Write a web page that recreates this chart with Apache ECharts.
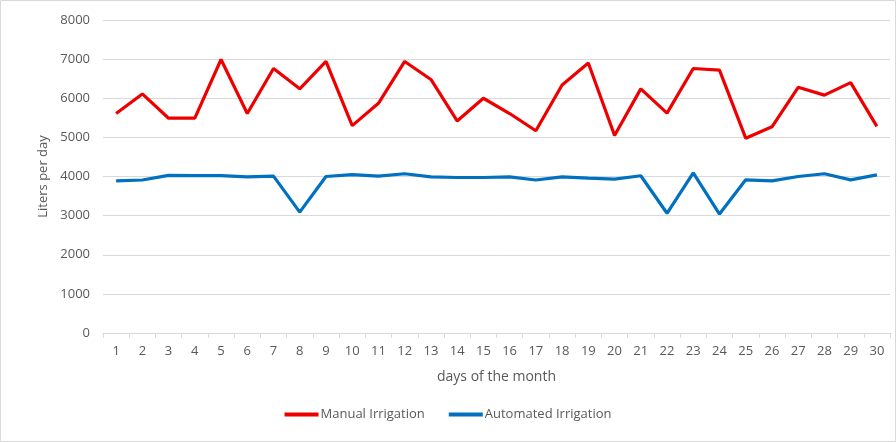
<!DOCTYPE html>
<html>
<head>
<meta charset="utf-8">
<script src="https://cdn.jsdelivr.net/npm/echarts@6/dist/echarts.min.js"></script>
<style>
html,body{margin:0;padding:0;background:#fff;}
#main{width:896px;height:442px;}
</style>
</head>
<body>
<div id="main"></div>
<script>
const days = ["1","2","3","4","5","6","7","8","9","10","11","12","13","14","15","16","17","18","19","20","21","22","23","24","25","26","27","28","29","30"];
const manualIrrigation = [5610,6110,5490,5490,6990,5610,6760,6240,6940,5300,5870,6940,6480,5420,6000,5610,5170,6340,6900,5050,6240,5620,6760,6720,4980,5270,6280,6080,6400,5280];
const automatedIrrigation = [3890,3910,4030,4020,4020,3990,4010,3090,4000,4050,4010,4070,3990,3975,3975,3990,3910,3990,3960,3935,4020,3060,4090,3040,3915,3890,4000,4070,3915,4040];
const yTicks = [0,1000,2000,3000,4000,5000,6000,7000,8000];

const chart = echarts.init(document.getElementById('main'));
const txt = '#595959';
const font = '"Open Sans", "Noto Sans", sans-serif';
chart.setOption({
  animation: false,
  textStyle: {fontFamily: font},
  graphic: [{
    type: 'rect', shape: {x: 0.5, y: 0.5, width: 895, height: 441},
    style: {fill: 'none', stroke: '#d9d9d9', lineWidth: 1}, silent: true
  }],
  grid: {left: 103, right: 6, top: 20, bottom: 109},
  legend: {
    bottom: 16, left: 'center',
    itemWidth: 34, itemHeight: 4, itemGap: 24,
    icon: 'rect',
    textStyle: {color: txt, fontSize: 13, fontFamily: font, padding: [0,0,0,-3]},
    data: ['Manual Irrigation', 'Automated Irrigation']
  },
  xAxis: {
    type: 'category', data: days, boundaryGap: true,
    name: 'days of the month', nameLocation: 'middle', nameGap: 37,
    nameTextStyle: {color: txt, fontSize: 14, fontFamily: font},
    axisLine: {lineStyle: {color: '#d9d9d9', width: 1}},
    axisTick: {show: true, length: 5, lineStyle: {color: '#d9d9d9'}},
    axisLabel: {color: txt, fontSize: 13, margin: 12, interval: 0, fontFamily: font}
  },
  yAxis: {
    type: 'value', min: yTicks[0], max: yTicks[yTicks.length-1], interval: 1000,
    name: 'Liters per day', nameLocation: 'middle', nameGap: 51,
    nameTextStyle: {color: txt, fontSize: 13, fontFamily: font},
    axisLine: {show: false}, axisTick: {show: false},
    axisLabel: {color: txt, fontSize: 13, margin: 13, fontFamily: font, formatter: v => String(v)},
    splitLine: {lineStyle: {color: '#d9d9d9', width: 1}}
  },
  series: [
    {name: 'Manual Irrigation', type: 'line', data: manualIrrigation, symbol: 'none',
     lineStyle: {color: '#ee0000', width: 3.2}, itemStyle: {color: '#ee0000'}},
    {name: 'Automated Irrigation', type: 'line', data: automatedIrrigation, symbol: 'none',
     lineStyle: {color: '#0070c0', width: 3.2}, itemStyle: {color: '#0070c0'}}
  ]
});
</script>
</body>
</html>
